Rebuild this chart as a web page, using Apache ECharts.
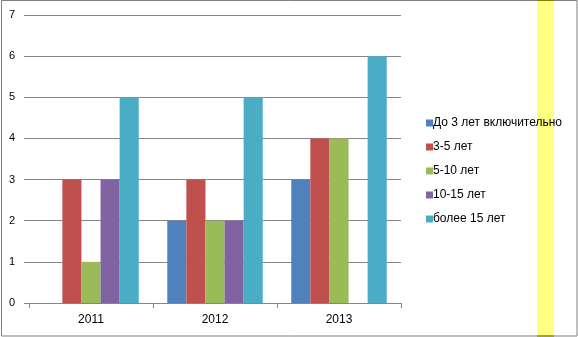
<!DOCTYPE html>
<html>
<head>
<meta charset="utf-8">
<script src="https://cdn.jsdelivr.net/npm/echarts@6/dist/echarts.min.js"></script>
<style>html,body{margin:0;padding:0;background:#fff}#c{width:578px;height:337px}</style>
</head>
<body>
<div id="c"></div>
<script>
const categories = ['2011', '2012', '2013'];
const seriesNames = ['До 3 лет включительно', '3-5 лет', '5-10 лет', '10-15 лет', 'более 15 лет'];
const upTo3 = [0, 2, 3];
const y3to5 = [3, 3, 4];
const y5to10 = [1, 2, 4];
const y10to15 = [3, 2, 0];
const over15 = [5, 5, 6];
const colors = ['#4F81BD', '#C0504D', '#9BBB59', '#8064A2', '#4BACC6'];

const values = [upTo3, y3to5, y5to10, y10to15, over15];
const chart = echarts.init(document.getElementById('c'), null, {renderer: 'canvas'});
chart.setOption({
  animation: false,
  color: colors,
  textStyle: {fontFamily: 'Liberation Sans'},
  grid: {left: 29, right: 177, top: 15, bottom: 34},
  xAxis: {
    type: 'category',
    data: categories,
    axisLine: {lineStyle: {color: '#868686', width: 1}},
    axisTick: {show: true, length: 5, lineStyle: {color: '#868686'}},
    axisLabel: {color: '#000', fontSize: 12, margin: 11, fontFamily: 'Liberation Sans'}
  },
  yAxis: {
    type: 'value',
    min: 0, max: 7, interval: 1,
    axisLine: {show: false},
    axisTick: {show: true, length: 5, lineStyle: {color: '#868686'}},
    splitLine: {lineStyle: {color: '#868686', width: 1}},
    axisLabel: {color: '#000', fontSize: 11, margin: 14, fontFamily: 'Liberation Sans'}
  },
  legend: {
    orient: 'vertical',
    left: 421, top: 111,
    itemWidth: 7, itemHeight: 7,
    itemGap: 10,
    icon: 'rect',
    textStyle: {color: '#000', fontSize: 12, lineHeight: 14, fontFamily: 'Liberation Sans', padding: [0, 0, 0, -5]},
    data: seriesNames
  },
  series: seriesNames.map((n, i) => ({
    name: n,
    type: 'bar',
    data: values[i],
    barGap: '0%',
    barCategoryGap: '23%'
  })),
  graphic: [
    {type: 'rect', z: 0, silent: true, shape: {x: 537, y: 0, width: 17, height: 337}, style: {fill: '#FFFF80'}},
    {type: 'rect', z: 100, silent: true, shape: {x: 1.5, y: 0.5, width: 575.5, height: 335.5}, style: {fill: null, stroke: '#808080', lineWidth: 1}},
    {type: 'line', z: 101, silent: true, shape: {x1: 537, y1: 0.5, x2: 554, y2: 0.5}, style: {stroke: '#808000', lineWidth: 1}},
    {type: 'line', z: 101, silent: true, shape: {x1: 537, y1: 336, x2: 554, y2: 336}, style: {stroke: '#808000', lineWidth: 1}}
  ]
});
</script>
</body>
</html>
